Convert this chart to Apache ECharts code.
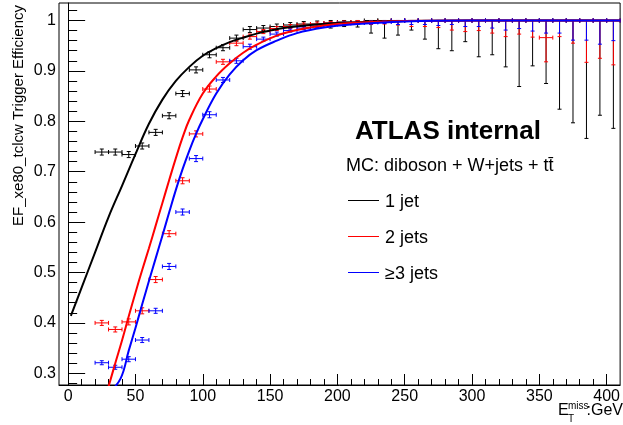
<!DOCTYPE html>
<html>
<head>
<meta charset="utf-8">
<script src="https://cdn.jsdelivr.net/npm/echarts@6/dist/echarts.min.js"></script>
<style>html,body{margin:0;padding:0;background:#fff}#c{width:623px;height:425px}</style>
</head>
<body>
<div id="c"></div>
<script>
// ---- data ----
const binCenters = [25,35,45,55,65,75,85,95,105,115,125,135,145,155,165,175,185,195,205,215,225,235,245,255,265,275,285,295,305,315,325,335,345,355,365,375,385,395,405];
const binHalfWidth = 5;

const eff1 = [0.739,0.739,0.734,0.751,0.778,0.811,0.855,0.902,0.932,0.946, 0.965,0.982,0.985,0.988,0.991,0.993,0.993,0.995,0.997,0.996, 1,1,1,1,1,1,1,1,1,1, 1,1,1,1,1,1,1,1,1];
const err1Down = [0.006,0.006,0.006,0.006,0.006,0.006,0.006,0.006,0.006,0.006, 0.006,0.006,0.005,0.005,0.005,0.005,0.006,0.010,0.009,0.009, 0.025,0.035,0.029,0.019,0.037,0.056,0.060,0.042,0.072,0.068, 0.092,0.131,0.090,0.125,0.176,0.203,0.234,0.188,0.214];
const err1Up = [0.006,0.006,0.006,0.006,0.006,0.006,0.006,0.006,0.006,0.006, 0.006,0.006,0.005,0.005,0.005,0.005,0.006,0.005,0.003,0.004, 0,0,0,0,0,0,0,0,0,0, 0,0,0,0,0,0,0,0,0];

const eff2 = [0.400,0.387,0.402,0.424,0.486,0.577,0.682,0.775,0.864,0.918, 0.955,0.968,0.978,0.984,0.988,0.991,0.993,0.995,0.996,0.997, 0.997,0.998,1,1,1,1,1,1,1,1, 1,1,1,0.966,1,1,1,1,1];
const err2Down = [0.005,0.005,0.006,0.006,0.006,0.006,0.006,0.006,0.006,0.005, 0.005,0.005,0.004,0.004,0.004,0.004,0.004,0.004,0.004,0.004, 0.005,0.005,0.009,0.012,0.012,0.014,0.019,0.022,0.020,0.025, 0.032,0.027,0.033,0.048,0.032,0.045,0.083,0.075,0.088];
const err2Up = [0.005,0.005,0.006,0.006,0.006,0.006,0.006,0.006,0.006,0.005, 0.005,0.005,0.004,0.004,0.004,0.004,0.004,0.003,0.003,0.003, 0.003,0.002,0,0,0,0,0,0,0,0, 0,0,0,0.034,0,0,0,0,0];

const eff3 = [0.321,0.312,0.328,0.366,0.424,0.512,0.620,0.726,0.813,0.882, 0.920,0.948,0.963,0.973,0.980,0.985,0.989,0.992,0.994,0.995, 0.996,0.997,1,1,1,1,1,1,1,1, 1,1,1,1,1,1,1,1,1];
const err3Down = [0.004,0.004,0.005,0.005,0.005,0.006,0.006,0.006,0.006,0.005, 0.005,0.005,0.004,0.004,0.003,0.003,0.003,0.003,0.003,0.003, 0.003,0.003,0.008,0.008,0.008,0.010,0.008,0.012,0.012,0.015, 0.019,0.016,0.021,0.025,0.025,0.039,0.039,0.047,0.040];
const err3Up = [0.004,0.004,0.005,0.005,0.005,0.006,0.006,0.006,0.006,0.005, 0.005,0.005,0.004,0.004,0.003,0.003,0.003,0.003,0.003,0.003, 0.003,0.003,0,0,0,0,0,0,0,0, 0,0,0,0,0,0,0,0,0];

// fitted curves
const fit1X = [2,10,20,30,40,50,60,70,80,90,100,110,120,130,140,150,160,180,200,250,300,410];
const fit1Y = [0.414,0.47,0.54,0.61,0.672,0.735,0.795,0.843,0.88,0.908,0.93,0.945,0.957,0.966,0.974,0.98,0.985,0.991,0.995,0.999,1.0,1.0];
const fit2X = [28,35,40,45,50,55,60,65,70,75,80,85,90,100,110,120,130,140,155,170,190,210,250,300,410];
const fit2Y = [0.255,0.32,0.365,0.413,0.46,0.505,0.548,0.593,0.638,0.683,0.727,0.768,0.803,0.855,0.889,0.915,0.936,0.952,0.97,0.981,0.99,0.995,0.999,1.0,1.0];
const fit3X = [30,39,45,50,55,60,65,70,75,80,85,90,95,100,110,120,130,140,155,170,190,210,250,300,410];
const fit3Y = [0.26,0.29,0.345,0.39,0.437,0.483,0.528,0.573,0.619,0.664,0.705,0.742,0.775,0.804,0.855,0.893,0.921,0.941,0.96,0.975,0.986,0.992,0.998,1.0,1.0];

// axis ticks
const xMajorTicks = [0,50,100,150,200,250,300,350,400];
const xMinorTicks = [10,20,30,40,60,70,80,90,110,120,130,140,160,170,180,190,210,220,230,240,260,270,280,290,310,320,330,340,360,370,380,390];
const yMajorTicks = [0.3,0.4,0.5,0.6,0.7,0.8,0.9,1.0];
const yMinorTicks = [0.28,0.32,0.34,0.36,0.38,0.42,0.44,0.46,0.48,0.52,0.54,0.56,0.58,0.62,0.64,0.66,0.68,0.72,0.74,0.76,0.78,0.82,0.84,0.86,0.88,0.92,0.94,0.96,0.98,1.02];

const seriesNames = ['1 jet','2 jets','\u22653 jets'];
const colors = ['#000000','#ff0000','#0000ff'];

// ---- chart ----
const FONT = '"Liberation Sans", Arial, sans-serif';
const chart = echarts.init(document.getElementById('c'), null, {renderer:'canvas'});

function pts(effs, dn, up) {
  return binCenters.map((x,i) => [x, effs[i], dn[i], up[i]]);
}
function errRender(color) {
  return function(params, api) {
    const x = api.value(0), y = api.value(1), d = api.value(2), u = api.value(3);
    const pL = api.coord([x - binHalfWidth, y]);
    const pR = api.coord([x + binHalfWidth, y]);
    const pLo = api.coord([x, y - d]);
    const pHi = api.coord([x, y + u]);
    const c = 2;
    const st = {stroke: color, lineWidth: 1};
    const L = (x1,y1,x2,y2) => ({type:'line', shape:{x1,y1,x2,y2}, style: st});
    return {type:'group', children:[
      L(pL[0], pL[1], pR[0], pR[1]),
      L(pL[0], pL[1]-c, pL[0], pL[1]+c),
      L(pR[0], pR[1]-c, pR[0], pR[1]+c),
      L(pLo[0], pLo[1], pHi[0], pHi[1]),
      L(pLo[0]-c, pLo[1], pLo[0]+c, pLo[1]),
      L(pHi[0]-c, pHi[1], pHi[0]+c, pHi[1])
    ]};
  };
}
const errData = [pts(eff1, err1Down, err1Up), pts(eff2, err2Down, err2Up), pts(eff3, err3Down, err3Up)];
const fits = [[fit1X, fit1Y],[fit2X, fit2Y],[fit3X, fit3Y]];

const series = [];
errData.forEach((d, i) => series.push({
  type:'custom', name: seriesNames[i] + ' data', data: d, renderItem: errRender(colors[i]),
  encode:{x:0, y:1}, clip:true, z: 2
}));
fits.forEach((f, i) => series.push({
  type:'line', name: seriesNames[i], data: f[0].map((x,k)=>[x, f[1][k]]),
  showSymbol:false, smooth:0.4, clip:true,
  lineStyle:{color: colors[i], width: 2}, itemStyle:{color: colors[i]}, z: 3
}));

const X_MIN = -6.8, X_MAX = 410, Y_MIN = 0.2768, Y_MAX = 1.0347;

const option = {
  animation:false,
  backgroundColor:'#fff',
  grid:{left:59, right:-6, top:3, bottom:40, show:true, borderColor:'#000', borderWidth:1, backgroundColor:'transparent'},
  xAxis:[
    {type:'value', min:X_MIN, max:X_MAX, position:'bottom',
     axisLine:{show:true, lineStyle:{color:'#000', width:1}},
     axisTick:{show:true, inside:true, length:11, customValues:xMajorTicks, lineStyle:{color:'#000'}},
     axisLabel:{show:true, customValues:xMajorTicks, margin:4, fontSize:16, color:'#000', fontFamily:FONT},
     splitLine:{show:false}},
    {type:'value', min:X_MIN, max:X_MAX, position:'bottom',
     axisLine:{show:false},
     axisTick:{show:true, inside:true, length:6, customValues:xMinorTicks, lineStyle:{color:'#000'}},
     axisLabel:{show:false}, splitLine:{show:false}}
  ],
  yAxis:[
    {type:'value', min:Y_MIN, max:Y_MAX, position:'left',
     axisLine:{show:true, lineStyle:{color:'#000', width:1}},
     axisTick:{show:true, inside:true, length:17, customValues:yMajorTicks, lineStyle:{color:'#000'}},
     axisLabel:{show:true, customValues:yMajorTicks, margin:3, fontSize:16, color:'#000', fontFamily:FONT,
       formatter: v => String(Math.round(v*10)/10)},
     splitLine:{show:false}},
    {type:'value', min:Y_MIN, max:Y_MAX, position:'left',
     axisLine:{show:false},
     axisTick:{show:true, inside:true, length:9, customValues:yMinorTicks, lineStyle:{color:'#000'}},
     axisLabel:{show:false}, splitLine:{show:false}}
  ],
  series: series,
  graphic:[
    {type:'text', x:19, y:5, rotation:Math.PI/2,
     style:{text:'EF_xe80_tclcw Trigger Efficiency', font:'15px ' + FONT, fill:'#000', textAlign:'right', textVerticalAlign:'middle'}},
    {type:'text', x:558, y:419, style:{text:'E', font:'16px ' + FONT, fill:'#000', textAlign:'left', textVerticalAlign:'bottom'}},
    {type:'text', x:568, y:411, style:{text:'miss', font:'10px ' + FONT, fill:'#000', textAlign:'left', textVerticalAlign:'bottom'}},
    {type:'text', x:568, y:424, style:{text:'T', font:'10px ' + FONT, fill:'#000', textAlign:'left', textVerticalAlign:'bottom'}},
    {type:'text', x:623, y:419, style:{text:':GeV', font:'16px ' + FONT, fill:'#000', textAlign:'right', textVerticalAlign:'bottom'}},
    {type:'text', x:355, y:132, style:{text:'ATLAS internal', font:'bold 26px ' + FONT, fill:'#000', textAlign:'left', textVerticalAlign:'middle'}},
    {type:'text', x:346, y:166, style:{text:'MC: diboson + W+jets + tt\u0304', font:'18px ' + FONT, fill:'#000', textAlign:'left', textVerticalAlign:'middle'}},
    {type:'line', shape:{x1:348, y1:200.5, x2:379, y2:200.5}, style:{stroke:colors[0], lineWidth:1}},
    {type:'text', x:385, y:202, style:{text:seriesNames[0], font:'18px ' + FONT, fill:'#000', textAlign:'left', textVerticalAlign:'middle'}},
    {type:'line', shape:{x1:348, y1:236.5, x2:379, y2:236.5}, style:{stroke:colors[1], lineWidth:1}},
    {type:'text', x:385, y:238, style:{text:seriesNames[1], font:'18px ' + FONT, fill:'#000', textAlign:'left', textVerticalAlign:'middle'}},
    {type:'line', shape:{x1:348, y1:272.5, x2:379, y2:272.5}, style:{stroke:colors[2], lineWidth:1}},
    {type:'text', x:385, y:274, style:{text:seriesNames[2], font:'18px ' + FONT, fill:'#000', textAlign:'left', textVerticalAlign:'middle'}}
  ]
};
chart.setOption(option);
</script>
</body>
</html>
